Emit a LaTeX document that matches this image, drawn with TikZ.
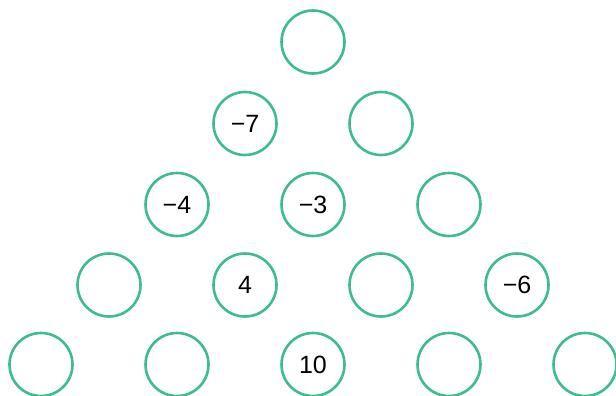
\documentclass[tikz,border=0pt]{standalone}
\usepackage{fontspec}
\setmainfont{Liberation Sans}
\usepackage{tikz}
\definecolor{ringgreen}{RGB}{61,189,141}
\tikzset{
  cell/.style = {circle, draw=ringgreen, line width=2.6pt, minimum size=63pt,
                 inner sep=0pt, font=\fontsize{25}{26}\selectfont},
}
\begin{document}
\begin{tikzpicture}[x=1pt, y=-1pt]
  \useasboundingbox (0,0) rectangle (616,396);

  % top row
  \node[cell] (a1) at (313,42) {};

  % second row
  \node[cell] (b1) at (245,123.5) {−7};
  \node[cell] (b2) at (381,123.5) {};

  % third row
  \node[cell] (c1) at (177,204.5) {−4};
  \node[cell] (c2) at (313,204.5) {−3};
  \node[cell] (c3) at (449,204.5) {};

  % fourth row
  \node[cell] (d1) at (109,285) {};
  \node[cell] (d2) at (245,285) {4};
  \node[cell] (d3) at (381,285) {};
  \node[cell] (d4) at (517,285) {−6};

  % bottom row
  \node[cell] (e1) at (41,364.5) {};
  \node[cell] (e2) at (177,364.5) {};
  \node[cell] (e3) at (313,364.5) {10};
  \node[cell] (e4) at (449,364.5) {};
  \node[cell] (e5) at (585,364.5) {};
\end{tikzpicture}
\end{document}
